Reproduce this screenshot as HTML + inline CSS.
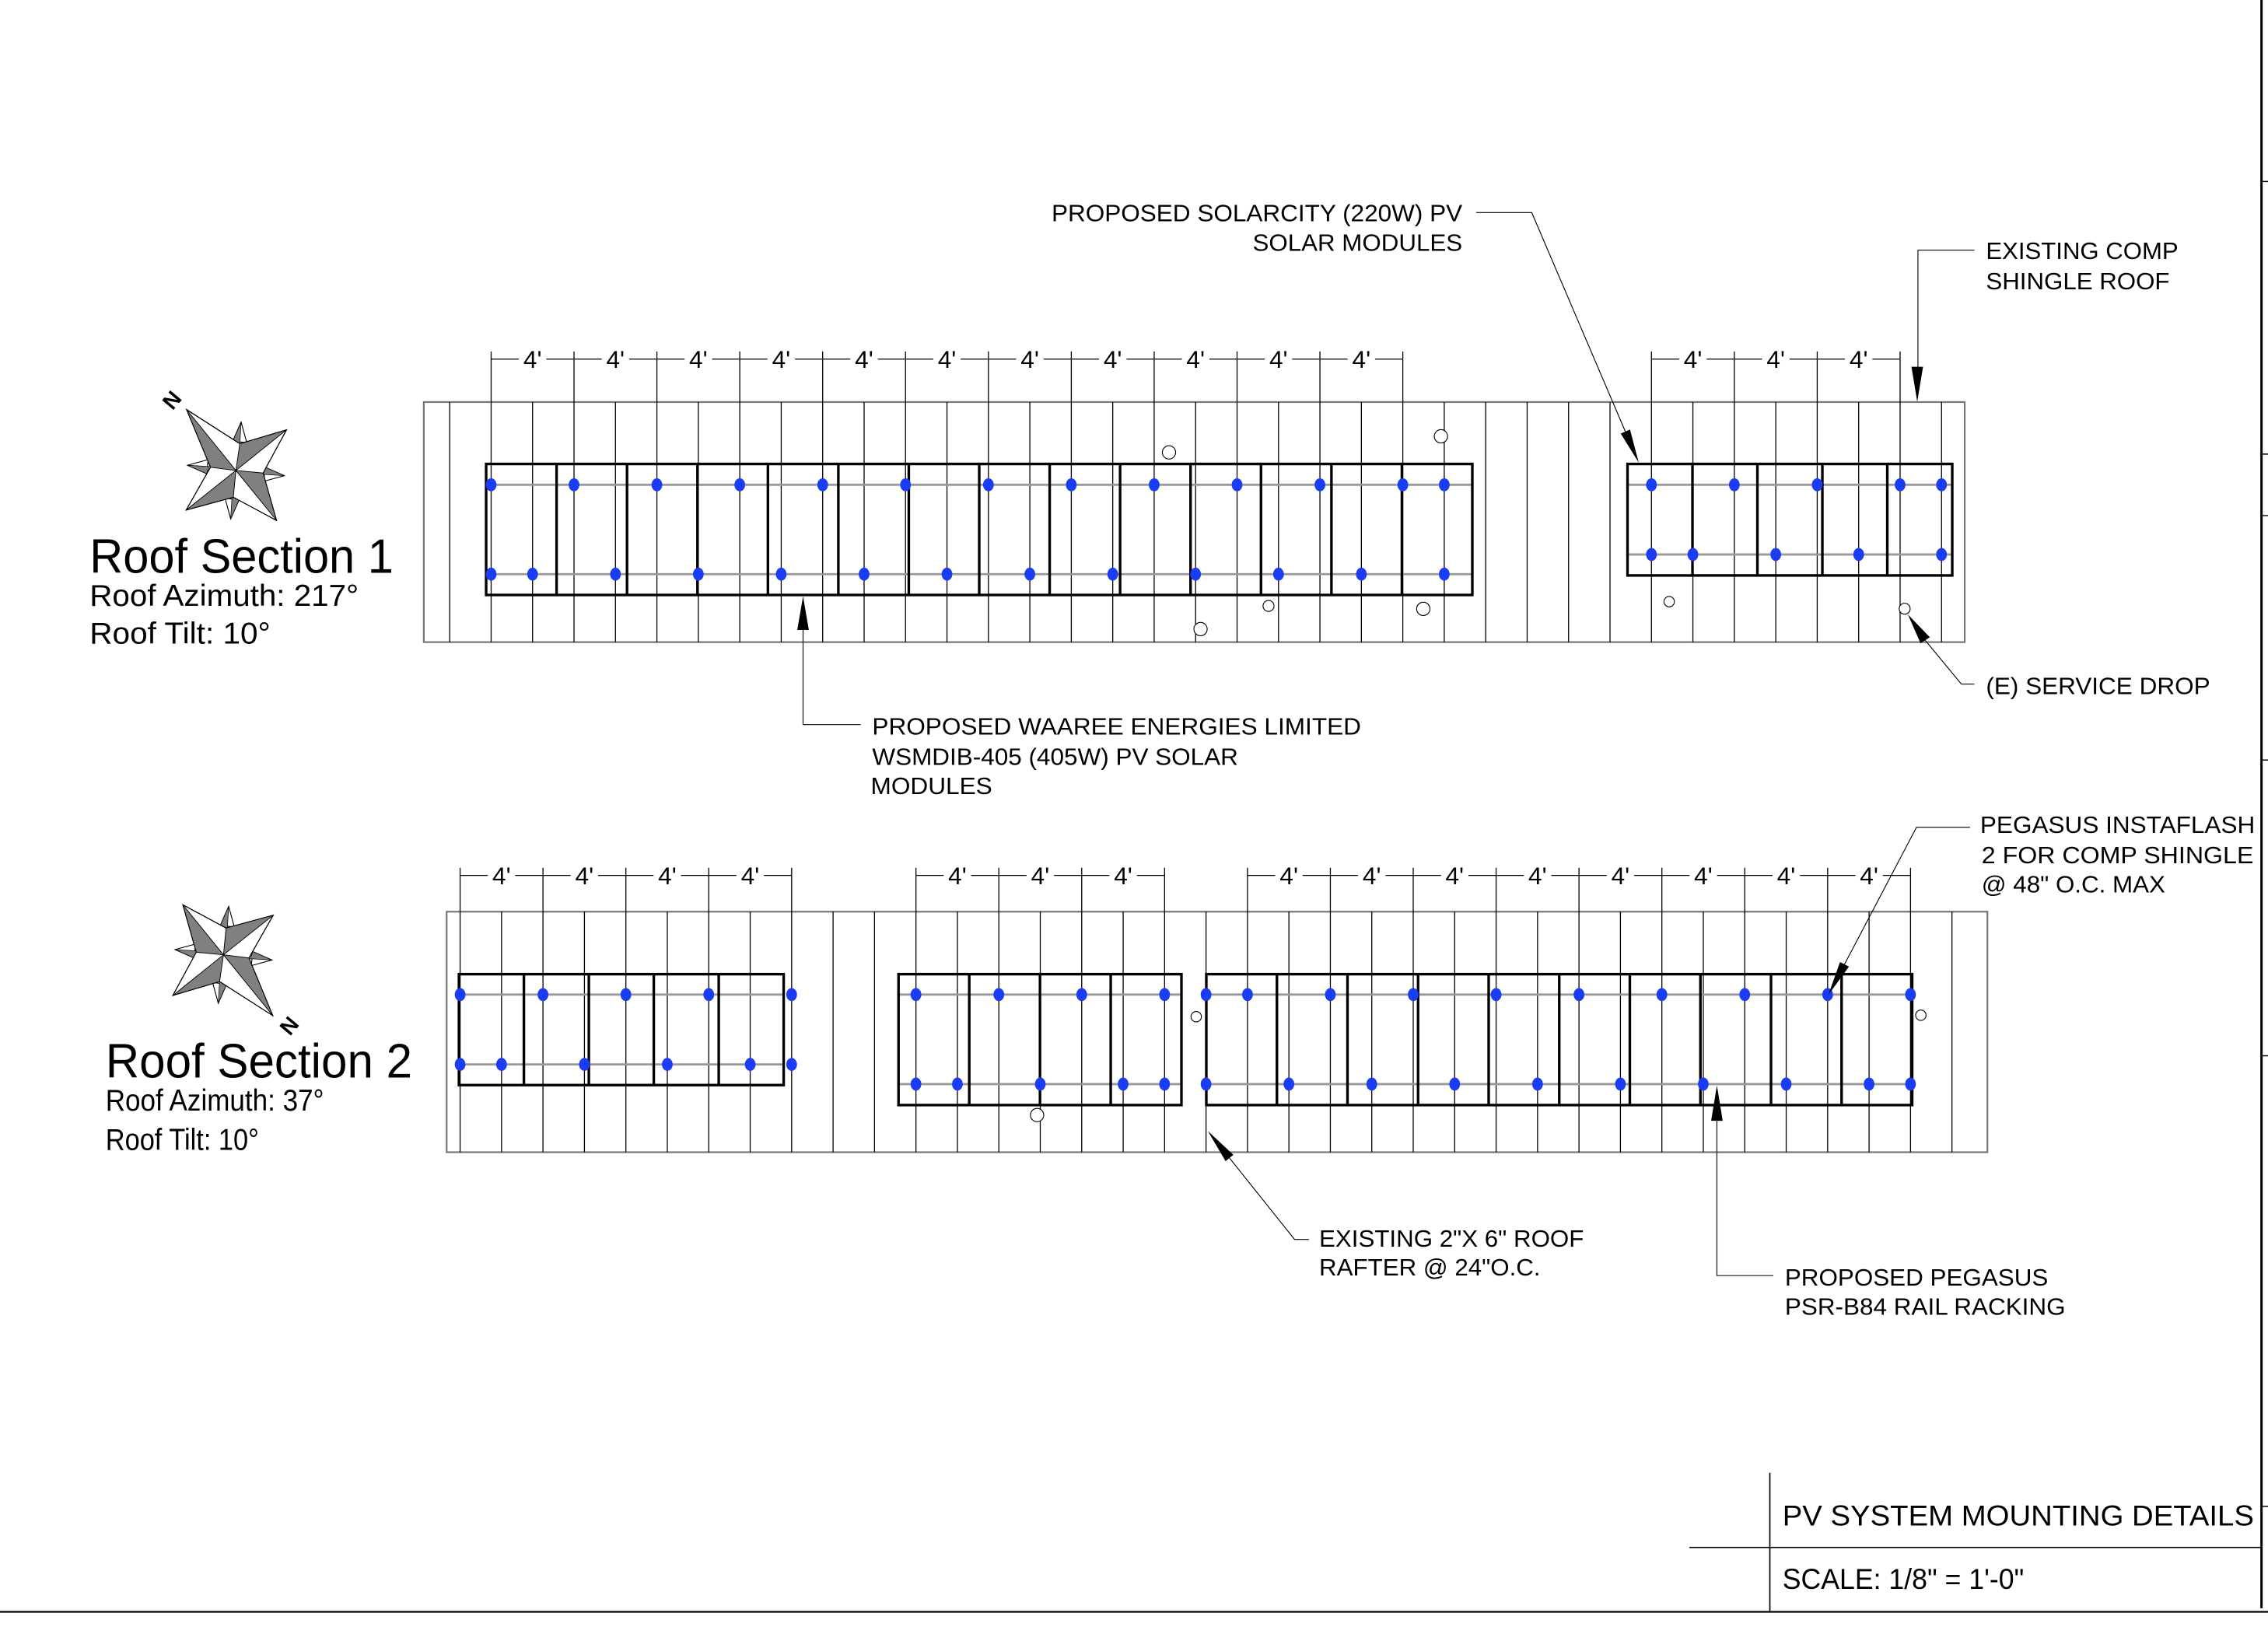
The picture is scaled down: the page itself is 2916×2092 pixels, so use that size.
<!DOCTYPE html>
<html><head><meta charset="utf-8"><style>
html,body{margin:0;padding:0;background:#fff;}
svg{display:block;}
text{font-family:"Liberation Sans",Arial,sans-serif;fill:#000;}
ellipse.d{rx:3.7px;ry:4.5px;}
</style></head><body>
<svg width="2916" height="2092" viewBox="0 0 1568 1125" preserveAspectRatio="none" xmlns="http://www.w3.org/2000/svg">
<defs>
<g id="short">
<polygon points="3.6,-33.5 -2.2,-20.3 7.5,-19.2" fill="#fff" stroke="#000" stroke-width="0.6"/>
<polygon points="3.6,-33.5 -2.2,-20.3 2.7,-18.5" fill="#808080" stroke="#000" stroke-width="0.4"/>
</g>
<g id="compass">
<use href="#short"/>
<use href="#short" transform="rotate(90)"/>
<use href="#short" transform="rotate(180)"/>
<use href="#short" transform="rotate(270)"/>
<polygon points="-34.1,-42.1 2.7,-18.5 35,-28.1 18.8,1.8 28.1,34.6 -1.8,18.5 -34.4,27.4 -17.6,-2.2" fill="#fff" stroke="#000" stroke-width="0.6"/>
<polygon points="-34.1,-42.1 -17.6,-2.2 0,0" fill="#808080"/>
<polygon points="35,-28.1 2.7,-18.5 0,0" fill="#808080"/>
<polygon points="28.1,34.6 18.8,1.8 0,0" fill="#808080"/>
<polygon points="-34.4,27.4 -1.8,18.5 0,0" fill="#808080"/>
<path d="M0,0 L-34.1,-42.1 M0,0 L35,-28.1 M0,0 L28.1,34.6 M0,0 L-34.4,27.4 M0,0 L2.7,-18.5 M0,0 L18.8,1.8 M0,0 L-1.8,18.5 M0,0 L-17.6,-2.2" stroke="#000" stroke-width="0.5" fill="none"/>
<polygon points="-34.1,-42.1 2.7,-18.5 35,-28.1 18.8,1.8 28.1,34.6 -1.8,18.5 -34.4,27.4 -17.6,-2.2" fill="none" stroke="#000" stroke-width="0.6"/>
</g>
</defs>

<path d="M1563.5,0 V1112" stroke="#000" stroke-width="1.6"/>
<path d="M1563.5,125.5 H1568 M1563.5,314 H1568 M1563.5,356.5 H1568 M1563.5,525.5 H1568 M1563.5,730 H1568 M1563.5,1041.6 H1568" stroke="#000" stroke-width="0.8"/>
<path d="M0,1114.5 H1568" stroke="#000" stroke-width="1.2"/>
<path d="M1223.6,1018.4 V1114" stroke="#000" stroke-width="0.9"/>
<path d="M1168,1070 H1563" stroke="#000" stroke-width="0.9"/>
<text x="1232.3" y="1054.8" font-size="20" textLength="326" lengthAdjust="spacingAndGlyphs">PV SYSTEM MOUNTING DETAILS</text>
<text x="1232.3" y="1098.6" font-size="20" textLength="167" lengthAdjust="spacingAndGlyphs">SCALE: 1/8" = 1'-0"</text>

<use href="#compass" transform="translate(163.1,325.3)"/>
<text x="0" y="0" font-size="15" font-weight="bold" text-anchor="middle" transform="translate(122.8,280) rotate(-50)">N</text>
<use href="#compass" transform="translate(154.5,660.2) rotate(180)"/>
<text x="0" y="0" font-size="15" font-weight="bold" text-anchor="middle" transform="translate(196,706) rotate(130)">N</text>

<text x="62" y="396" font-size="33.5" textLength="210" lengthAdjust="spacingAndGlyphs">Roof Section 1</text>
<text x="62" y="419" font-size="21" textLength="186" lengthAdjust="spacingAndGlyphs">Roof Azimuth: 217°</text>
<text x="62" y="445" font-size="21" textLength="125" lengthAdjust="spacingAndGlyphs">Roof Tilt: 10°</text>
<text x="73" y="745" font-size="33.5" textLength="212" lengthAdjust="spacingAndGlyphs">Roof Section 2</text>
<text x="73" y="768" font-size="21" textLength="151" lengthAdjust="spacingAndGlyphs">Roof Azimuth: 37°</text>
<text x="73" y="795" font-size="21" textLength="106" lengthAdjust="spacingAndGlyphs">Roof Tilt: 10°</text>

<rect x="293" y="278" width="1065.3" height="166" fill="none" stroke="#777" stroke-width="1.2"/>
<path stroke="#000" stroke-width="0.7" fill="none" d="M310.9,278V444 M339.55,243V444 M368.2,278V444 M396.85,243V444 M425.5,278V444 M454.15,243V444 M482.8,278V444 M511.45,243V444 M540.1,278V444 M568.75,243V444 M597.4,278V444 M626.05,243V444 M654.7,278V444 M683.35,243V444 M712,278V444 M740.65,243V444 M769.3,278V444 M797.95,243V444 M826.6,278V444 M855.25,243V444 M883.9,278V444 M912.55,243V444 M941.2,278V444 M969.85,243V444 M998.5,278V444 M1027.15,278V444 M1055.8,278V444 M1084.45,278V444 M1113.1,278V444 M1141.75,243V444 M1170.4,278V444 M1199.05,243V444 M1227.7,278V444 M1256.35,243V444 M1285,278V444 M1313.65,243V444 M1342.3,278V444"/>
<path stroke="#000" stroke-width="0.7" fill="none" d="M339.55,248.3H358.7 M377.7,248.3H416 M435,248.3H473.3 M492.3,248.3H530.6 M549.6,248.3H587.9 M606.9,248.3H645.2 M664.2,248.3H702.5 M721.5,248.3H759.8 M778.8,248.3H817.1 M836.1,248.3H874.4 M893.4,248.3H931.7 M950.7,248.3H969.85 M1141.75,248.3H1160.9 M1179.9,248.3H1218.2 M1237.2,248.3H1275.5 M1294.5,248.3H1313.65"/>
<g font-size="17" text-anchor="middle">
<text x="368.2" y="254.5">4'</text><text x="425.5" y="254.5">4'</text><text x="482.8" y="254.5">4'</text><text x="540.1" y="254.5">4'</text><text x="597.4" y="254.5">4'</text><text x="654.7" y="254.5">4'</text><text x="712" y="254.5">4'</text><text x="769.3" y="254.5">4'</text><text x="826.6" y="254.5">4'</text><text x="883.9" y="254.5">4'</text><text x="941.2" y="254.5">4'</text>
<text x="1170.4" y="254.5">4'</text><text x="1227.7" y="254.5">4'</text><text x="1285" y="254.5">4'</text>
</g>
<path stroke="#999" stroke-width="1.5" d="M336,335.2H1018 M336,397H1018 M1125,335.2H1350 M1125,383.4H1350"/>
<g fill="none" stroke="#000" stroke-width="1.8">
<rect x="336.1" y="320.8" width="681.8" height="90.6"/>
<path d="M384.8,320.8V411.4 M433.5,320.8V411.4 M482.2,320.8V411.4 M530.9,320.8V411.4 M579.6,320.8V411.4 M628.3,320.8V411.4 M677,320.8V411.4 M725.7,320.8V411.4 M774.4,320.8V411.4 M823.1,320.8V411.4 M871.8,320.8V411.4 M920.5,320.8V411.4 M969.2,320.8V411.4"/>
<rect x="1125.2" y="320.8" width="224.5" height="77.1"/>
<path d="M1170.1,320.8V397.9 M1215,320.8V397.9 M1259.9,320.8V397.9 M1304.8,320.8V397.9"/>
</g>
<g fill="#1a3cf5">
<ellipse class="d" cx="339.55" cy="335.2" rx="3.7" ry="4.5"/><ellipse cx="396.85" cy="335.2" rx="3.7" ry="4.5"/><ellipse cx="454.15" cy="335.2" rx="3.7" ry="4.5"/><ellipse cx="511.45" cy="335.2" rx="3.7" ry="4.5"/><ellipse cx="568.75" cy="335.2" rx="3.7" ry="4.5"/><ellipse cx="626.05" cy="335.2" rx="3.7" ry="4.5"/><ellipse cx="683.35" cy="335.2" rx="3.7" ry="4.5"/><ellipse cx="740.65" cy="335.2" rx="3.7" ry="4.5"/><ellipse cx="797.95" cy="335.2" rx="3.7" ry="4.5"/><ellipse cx="855.25" cy="335.2" rx="3.7" ry="4.5"/><ellipse cx="912.55" cy="335.2" rx="3.7" ry="4.5"/><ellipse cx="969.85" cy="335.2" rx="3.7" ry="4.5"/><ellipse cx="998.5" cy="335.2" rx="3.7" ry="4.5"/>
<ellipse cx="339.55" cy="397" rx="3.7" ry="4.5"/><ellipse cx="368.2" cy="397" rx="3.7" ry="4.5"/><ellipse cx="425.5" cy="397" rx="3.7" ry="4.5"/><ellipse cx="482.8" cy="397" rx="3.7" ry="4.5"/><ellipse cx="540.1" cy="397" rx="3.7" ry="4.5"/><ellipse cx="597.4" cy="397" rx="3.7" ry="4.5"/><ellipse cx="654.7" cy="397" rx="3.7" ry="4.5"/><ellipse cx="712" cy="397" rx="3.7" ry="4.5"/><ellipse cx="769.3" cy="397" rx="3.7" ry="4.5"/><ellipse cx="826.6" cy="397" rx="3.7" ry="4.5"/><ellipse cx="883.9" cy="397" rx="3.7" ry="4.5"/><ellipse cx="941.2" cy="397" rx="3.7" ry="4.5"/><ellipse cx="998.5" cy="397" rx="3.7" ry="4.5"/>
<ellipse cx="1141.75" cy="335.2" rx="3.7" ry="4.5"/><ellipse cx="1199.05" cy="335.2" rx="3.7" ry="4.5"/><ellipse cx="1256.35" cy="335.2" rx="3.7" ry="4.5"/><ellipse cx="1313.65" cy="335.2" rx="3.7" ry="4.5"/><ellipse cx="1342.3" cy="335.2" rx="3.7" ry="4.5"/>
<ellipse cx="1141.75" cy="383.4" rx="3.7" ry="4.5"/><ellipse cx="1170.4" cy="383.4" rx="3.7" ry="4.5"/><ellipse cx="1227.7" cy="383.4" rx="3.7" ry="4.5"/><ellipse cx="1285" cy="383.4" rx="3.7" ry="4.5"/><ellipse cx="1342.3" cy="383.4" rx="3.7" ry="4.5"/>
</g>
<g fill="#fff" stroke="#000" stroke-width="0.6">
<circle cx="808.2" cy="312.8" r="4.6"/><circle cx="996.2" cy="301.7" r="4.6"/><circle cx="830" cy="435" r="4.6"/><circle cx="877" cy="419" r="3.8"/><circle cx="984" cy="421" r="4.6"/><circle cx="1154" cy="416" r="3.6"/><circle cx="1316.8" cy="420.9" r="3.8"/>
</g>

<g stroke="#000" stroke-width="0.6" fill="none">
<path d="M1020.6,147H1059L1123.7,298.4"/>
<path d="M1365,173H1326V254"/>
<path d="M1331,442.7L1356,473H1365"/>
<path d="M555.2,435V501H595"/>
</g>
<g fill="#000">
<polygon points="1133,320 1126.9,297 1120.5,299.8"/>
<polygon points="1325.5,277.8 1321.5,253.6 1329.5,253.6"/>
<polygon points="1319,424.8 1334.2,440.6 1327.8,444.8"/>
<polygon points="555.2,412.3 551.2,435.6 559.2,435.6"/>
</g>
<g font-size="16.3">
<text x="1011" y="153" text-anchor="end" textLength="284" lengthAdjust="spacingAndGlyphs">PROPOSED SOLARCITY (220W) PV</text>
<text x="1011" y="173.5" text-anchor="end" textLength="145" lengthAdjust="spacingAndGlyphs">SOLAR MODULES</text>
<text x="1373" y="179" textLength="133" lengthAdjust="spacingAndGlyphs">EXISTING COMP</text>
<text x="1373" y="200" textLength="127" lengthAdjust="spacingAndGlyphs">SHINGLE ROOF</text>
<text x="1373" y="480" textLength="155" lengthAdjust="spacingAndGlyphs">(E) SERVICE DROP</text>
<text x="603" y="508" textLength="338" lengthAdjust="spacingAndGlyphs">PROPOSED WAAREE ENERGIES LIMITED</text>
<text x="603" y="529" textLength="253" lengthAdjust="spacingAndGlyphs">WSMDIB-405 (405W) PV SOLAR</text>
<text x="602" y="549" textLength="84" lengthAdjust="spacingAndGlyphs">MODULES</text>
</g>

<rect x="308.8" y="630.4" width="1065.2" height="166.3" fill="none" stroke="#777" stroke-width="1.2"/>
<path stroke="#000" stroke-width="0.7" fill="none" d="M318.1,600V796.7 M346.75,630.4V796.7 M375.4,600V796.7 M404.05,630.4V796.7 M432.7,600V796.7 M461.35,630.4V796.7 M490,600V796.7 M518.65,630.4V796.7 M547.3,600V796.7 M575.95,630.4V796.7 M604.6,630.4V796.7 M633.25,600V796.7 M661.9,630.4V796.7 M690.55,600V796.7 M719.2,630.4V796.7 M747.85,600V796.7 M776.5,630.4V796.7 M805.15,600V796.7 M833.8,630.4V796.7 M862.45,600V796.7 M891.1,630.4V796.7 M919.75,600V796.7 M948.4,630.4V796.7 M977.05,600V796.7 M1005.7,630.4V796.7 M1034.35,600V796.7 M1063,630.4V796.7 M1091.65,600V796.7 M1120.3,630.4V796.7 M1148.95,600V796.7 M1177.6,630.4V796.7 M1206.25,600V796.7 M1234.9,630.4V796.7 M1263.55,600V796.7 M1292.2,630.4V796.7 M1320.85,600V796.7 M1349.5,630.4V796.7"/>
<path stroke="#000" stroke-width="0.7" fill="none" d="M318.1,605.3H337.2 M356.2,605.3H394.5 M413.5,605.3H451.8 M470.8,605.3H509.1 M528.1,605.3H547.3 M633.25,605.3H652.4 M671.4,605.3H709.7 M728.7,605.3H767 M786,605.3H805.15 M862.45,605.3H881.6 M900.6,605.3H938.9 M957.9,605.3H996.2 M1015.2,605.3H1053.5 M1072.5,605.3H1110.8 M1129.8,605.3H1168.1 M1187.1,605.3H1225.4 M1244.4,605.3H1282.7 M1301.7,605.3H1320.85"/>
<g font-size="17" text-anchor="middle">
<text x="346.75" y="611.5">4'</text><text x="404.05" y="611.5">4'</text><text x="461.35" y="611.5">4'</text><text x="518.65" y="611.5">4'</text>
<text x="661.9" y="611.5">4'</text><text x="719.2" y="611.5">4'</text><text x="776.5" y="611.5">4'</text>
<text x="891.1" y="611.5">4'</text><text x="948.4" y="611.5">4'</text><text x="1005.7" y="611.5">4'</text><text x="1063" y="611.5">4'</text><text x="1120.3" y="611.5">4'</text><text x="1177.6" y="611.5">4'</text><text x="1234.9" y="611.5">4'</text><text x="1292.2" y="611.5">4'</text>
</g>
<path stroke="#999" stroke-width="1.5" d="M317,687.7H542 M317,736H542 M621,687.7H817 M621,749.6H817 M834,687.7H1322 M834,749.6H1322"/>
<g fill="none" stroke="#000" stroke-width="1.8">
<rect x="317.3" y="673.6" width="224.5" height="76.7"/>
<path d="M362.2,673.6V750.3 M407.1,673.6V750.3 M452,673.6V750.3 M496.9,673.6V750.3"/>
<rect x="621.2" y="673.6" width="195.6" height="90.5"/>
<path d="M670.1,673.6V764.1 M719,673.6V764.1 M767.9,673.6V764.1"/>
<rect x="834" y="673.6" width="488" height="90.5"/>
<path d="M882.8,673.6V764.1 M931.6,673.6V764.1 M980.4,673.6V764.1 M1029.2,673.6V764.1 M1078,673.6V764.1 M1126.8,673.6V764.1 M1175.6,673.6V764.1 M1224.4,673.6V764.1 M1273.2,673.6V764.1"/>
</g>
<g fill="#1a3cf5">
<ellipse cx="318.1" cy="687.7" rx="3.7" ry="4.5"/><ellipse cx="375.4" cy="687.7" rx="3.7" ry="4.5"/><ellipse cx="432.7" cy="687.7" rx="3.7" ry="4.5"/><ellipse cx="490" cy="687.7" rx="3.7" ry="4.5"/><ellipse cx="547.3" cy="687.7" rx="3.7" ry="4.5"/>
<ellipse cx="318.1" cy="736" rx="3.7" ry="4.5"/><ellipse cx="346.75" cy="736" rx="3.7" ry="4.5"/><ellipse cx="404.05" cy="736" rx="3.7" ry="4.5"/><ellipse cx="461.35" cy="736" rx="3.7" ry="4.5"/><ellipse cx="518.65" cy="736" rx="3.7" ry="4.5"/><ellipse cx="547.3" cy="736" rx="3.7" ry="4.5"/>
<ellipse cx="633.25" cy="687.7" rx="3.7" ry="4.5"/><ellipse cx="690.55" cy="687.7" rx="3.7" ry="4.5"/><ellipse cx="747.85" cy="687.7" rx="3.7" ry="4.5"/><ellipse cx="805.15" cy="687.7" rx="3.7" ry="4.5"/>
<ellipse cx="633.25" cy="749.6" rx="3.7" ry="4.5"/><ellipse cx="661.9" cy="749.6" rx="3.7" ry="4.5"/><ellipse cx="719.2" cy="749.6" rx="3.7" ry="4.5"/><ellipse cx="776.5" cy="749.6" rx="3.7" ry="4.5"/><ellipse cx="805.15" cy="749.6" rx="3.7" ry="4.5"/>
<ellipse cx="833.8" cy="687.7" rx="3.7" ry="4.5"/><ellipse cx="862.45" cy="687.7" rx="3.7" ry="4.5"/><ellipse cx="919.75" cy="687.7" rx="3.7" ry="4.5"/><ellipse cx="977.05" cy="687.7" rx="3.7" ry="4.5"/><ellipse cx="1034.35" cy="687.7" rx="3.7" ry="4.5"/><ellipse cx="1091.65" cy="687.7" rx="3.7" ry="4.5"/><ellipse cx="1148.95" cy="687.7" rx="3.7" ry="4.5"/><ellipse cx="1206.25" cy="687.7" rx="3.7" ry="4.5"/><ellipse cx="1263.55" cy="687.7" rx="3.7" ry="4.5"/><ellipse cx="1320.85" cy="687.7" rx="3.7" ry="4.5"/>
<ellipse cx="833.8" cy="749.6" rx="3.7" ry="4.5"/><ellipse cx="891.1" cy="749.6" rx="3.7" ry="4.5"/><ellipse cx="948.4" cy="749.6" rx="3.7" ry="4.5"/><ellipse cx="1005.7" cy="749.6" rx="3.7" ry="4.5"/><ellipse cx="1063" cy="749.6" rx="3.7" ry="4.5"/><ellipse cx="1120.3" cy="749.6" rx="3.7" ry="4.5"/><ellipse cx="1177.6" cy="749.6" rx="3.7" ry="4.5"/><ellipse cx="1234.9" cy="749.6" rx="3.7" ry="4.5"/><ellipse cx="1292.2" cy="749.6" rx="3.7" ry="4.5"/><ellipse cx="1320.85" cy="749.6" rx="3.7" ry="4.5"/>
</g>
<g fill="#fff" stroke="#000" stroke-width="0.6">
<circle cx="717" cy="771" r="4.6"/><circle cx="827" cy="703" r="3.6"/><circle cx="1328" cy="702" r="3.6"/>
</g>
<g stroke="#000" stroke-width="0.6" fill="none">
<path d="M1362,572H1325L1275.2,666.8"/>
<path d="M850,800.7L895,857H905"/>
<path d="M1187,775V882H1226"/>
</g>
<g fill="#000">
<polygon points="1264,688 1278.3,668.4 1272.1,665.2"/>
<polygon points="835,782 852.7,798.5 847.3,802.9"/>
<polygon points="1187,750.5 1183,775 1191,775"/>
</g>
<g font-size="16.3">
<text x="1369" y="576" textLength="190" lengthAdjust="spacingAndGlyphs">PEGASUS INSTAFLASH</text>
<text x="1370" y="597" textLength="188" lengthAdjust="spacingAndGlyphs">2  FOR COMP SHINGLE</text>
<text x="1370" y="617" textLength="127" lengthAdjust="spacingAndGlyphs">@ 48" O.C. MAX</text>
<text x="912" y="862" textLength="183" lengthAdjust="spacingAndGlyphs">EXISTING 2"X 6" ROOF</text>
<text x="912" y="882" textLength="153" lengthAdjust="spacingAndGlyphs">RAFTER @ 24"O.C.</text>
<text x="1234" y="889" textLength="182" lengthAdjust="spacingAndGlyphs">PROPOSED PEGASUS</text>
<text x="1234" y="909" textLength="194" lengthAdjust="spacingAndGlyphs">PSR-B84 RAIL RACKING</text>
</g>
</svg>
</body></html>
